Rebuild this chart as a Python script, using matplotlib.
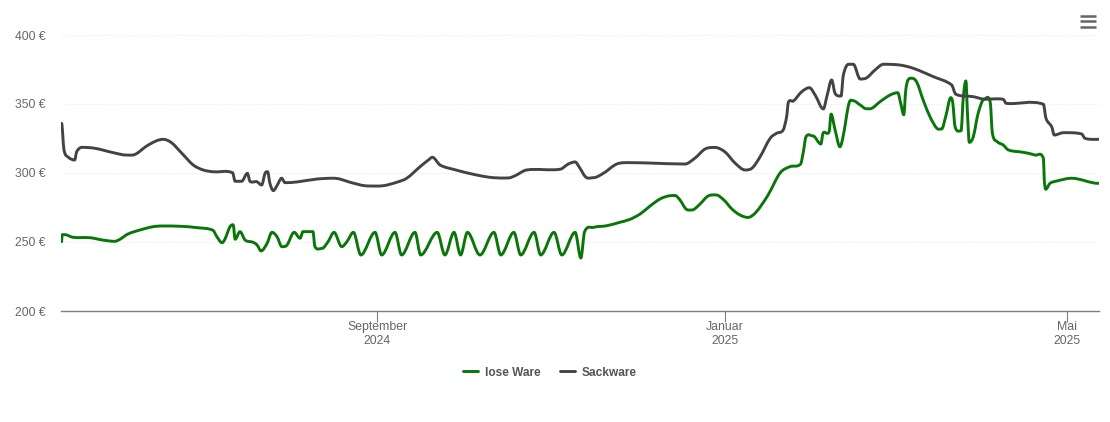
import datetime as dt
import matplotlib
matplotlib.use("Agg")
import matplotlib.pyplot as plt
import matplotlib.dates as mdates
from matplotlib.lines import Line2D
from matplotlib.patches import PathPatch
from matplotlib.path import Path

plt.rcParams['font.family'] = ['Liberation Sans', 'DejaVu Sans']

START = dt.datetime(2024, 5, 13)

lose_days = [0.2,0.4,1.4,4.2,10.2,14.7,18.9,20.7,23.5,27.7,32.3,35.8,41.8,47.7,53.3,54.7,56.5,57.5,59.3,60.4,61.1,62.8,64.6,67.4,68.8,70.2,72.3,74,75.8,77.5,79.3,81.8,83.9,84.9,88.4,89.1,91.6,93.7,
95.8,98.5,100.3,102.6,105.2,110.2,112.5,117.2,119.5,124.2,126.2,132,134.7,137.9,140.2,142.6,147,151.9,154.3,158.9,161.3,166,168.3,173,175.7,180.4,182.4,183.7,
186.8,191.5,196.1,199.6,203.2,206.7,210.2,213,215.4,217.2,219.3,221.4,224.2,227,229.8,232.6,235.4,238.2,241,243.9,248.1,252.3,255.8,259.5,260.4,261.4,263.9,266.6,267.4,269.5,270.2,271.6,273.3,274.4,276.5,277.9,280.4,282.5,284.5,287.4,290.9,293.6,294.6,295.7,296.4,297.2,298.8,300.4,302.5,304.9,307.3,309,310.4,312.2,312.9,313.7,315.8,316.6,317.5,318.1,318.7,320.1,321.8,323.9,326,326.8,328.5,330.6,332.4,337.6,341.8,344.7,345,345.5,347,349.4,354.6,364]
lose_eur = [250.2,255.3,255.3,253.4,253.1,251.4,250.5,252,255.8,258.7,261.1,261.6,261.4,260.4,258.5,253.8,249.5,252,261.1,262.5,252,257.5,251.4,249.8,247.8,243.5,249,257,253.8,246.6,247.8,257,252.7,257.5,257.5,246.6,245.4,250.2,
257,246.6,250.2,257,240.6,257,240.6,257,240.6,257,240.6,257,240.6,257,240.6,257,240.6,257,240.6,257,240.6,257,240.6,257,240.6,257,238.4,257.4,
260.6,261.8,264.3,266.4,270.3,276.1,281.2,283.3,283.7,280.4,273.9,273.2,277.5,283.3,284.1,280.4,273.9,269.6,267.8,271.7,284.1,300,304.6,306.5,314.5,326.3,326.8,321,329,329.9,342.7,331.2,319,326.3,350.7,352.4,349.3,346.6,346.9,351.7,356.5,358.2,350.7,342.2,360.1,367.4,368.6,365.2,352.9,340.8,332.4,331.9,340.8,354.6,350.7,333.5,330.6,355.3,366.7,340.8,322.2,326.3,343.3,353.4,351.7,328.8,322.7,320.3,316.7,315,313,310.6,294.9,288.2,292.5,294.2,296.2,292.5]

sack_days = [0.2,1.05,2.6,4.8,5.5,7.3,11.9,18.4,23,26,30.1,33.6,35.9,38.8,42.4,46.4,49.9,53.4,60.2,61.1,63.4,65.4,66.3,68.7,70.4,71.6,72.5,73.3,74.5,75.9,77.4,78.6,82.7,89.7,95.5,97.9,101.4,107.8,113.1,117.8,121.3,126,128.9,130.3,133,137.6,145.9,151.7,156.9,159.3,163.4,175.1,178,180.4,181.9,184.2,186.8,190.3,195,199.6,206.7,218.9,222.5,226,229.5,233,236.5,240,242.5,245.3,248.8,251.1,253.4,254.6,255.2,257,259.9,262.6,264.6,267.5,268.7,270.4,271.6,273.7,274.5,276.3,278,280.4,282.7,285.6,288.6,294.4,299,306.1,312.5,313.9,320.1,323.6,330.6,331.6,344.7,345.6,347.6,348.5,351.7,358.1,359.3,364]
sack_eur = [336,316.7,311.4,309.4,315.4,318.6,317.9,314.7,313,313.5,319.6,323.4,324.4,321.9,314.3,305.8,302.2,300.9,300.2,294,294,299.8,294,293.7,291.3,299.8,300.9,292.5,287.2,291.3,296.2,293,293.5,295.6,296.2,295.6,293.3,290.6,290.8,293.3,296.2,304.6,309.4,311.4,305.8,302.7,298.5,296.6,296.4,298,302.2,302.7,306.5,308,304.1,296.9,296.6,299.8,306.5,307.5,307.2,306.5,310.9,317.4,318.5,315.2,307.2,302.2,303.6,311.8,325.1,328.8,331.2,340.8,351.2,352.2,358.9,361.8,356.5,346.4,355.3,367.4,357.7,355.8,371,378.8,378.8,368.1,369,374.6,378.8,378.2,375.9,369.8,363.8,357.2,355.3,353.6,353.4,350.5,349.8,339.6,333.5,327.5,329.2,328.3,325.1,324.4]

y_ticks = [200, 250, 300, 350, 400]
y_labels = ["200 €", "250 €", "300 €", "350 €", "400 €"]
x_ticks = [dt.datetime(2024, 9, 1), dt.datetime(2025, 1, 1), dt.datetime(2025, 5, 1)]
x_labels = ["September\n2024", "Januar\n2025", "Mai\n2025"]

W, H = 1110, 422
fig = plt.figure(figsize=(W/100, H/100), dpi=100, facecolor="white")
ax = fig.add_axes([61/W, 1-311/H, (1099-61)/W, (311-35)/H])


def spline_path(days, eur):
    """Bezier path through the read points (curve style of the original chart)."""
    x0 = mdates.date2num(START)
    xs = [x0 + d for d in days]
    n = len(xs)
    slopes = []
    for i in range(n):
        if i == 0 or i == n - 1:
            slopes.append(0.0)
        elif (eur[i] - eur[i-1]) * (eur[i+1] - eur[i]) <= 0:
            slopes.append(0.0)
        else:
            slopes.append((eur[i+1] - eur[i-1]) / (xs[i+1] - xs[i-1]))
    verts = [(xs[0], eur[0])]
    codes = [Path.MOVETO]
    for i in range(n - 1):
        h = (xs[i+1] - xs[i]) / 3
        verts += [(xs[i] + h, eur[i] + h * slopes[i]),
                  (xs[i+1] - h, eur[i+1] - h * slopes[i+1]),
                  (xs[i+1], eur[i+1])]
        codes += [Path.CURVE4] * 3
    return Path(verts, codes)


series = [(lose_days, lose_eur, "#0a760a", "lose Ware"),
          (sack_days, sack_eur, "#434343", "Sackware")]
handles = []
for days, eur, col, name in series:
    ax.add_patch(PathPatch(spline_path(days, eur), fill=False, edgecolor=col, lw=2.1,
                           joinstyle="round", capstyle="round", zorder=3))
    handles.append(Line2D([], [], color=col, lw=2.1, solid_capstyle="round", label=name))

ax.set_xlim(START, START + dt.timedelta(days=364.2))
ax.set_ylim(200, 400)
ax.set_yticks(y_ticks, y_labels)
ax.set_xticks(x_ticks, x_labels)
ax.grid(axis="y", color="#e9e9e9", lw=0.8, ls=(0, (1, 1.5)))
ax.set_axisbelow(True)
for s in ["top", "left", "right"]:
    ax.spines[s].set_visible(False)
ax.spines["bottom"].set_color("#7f7f7f")
ax.spines["bottom"].set_linewidth(1.0)
ax.tick_params(axis="y", length=0, pad=11, labelsize=8.7, labelcolor="#666666")
ax.tick_params(axis="x", length=8, width=0.8, color="#7f7f7f", pad=-0.5, labelsize=8.8, labelcolor="#666666")
for lab in ax.get_xticklabels():
    lab.set_linespacing(1.2)

leg = fig.legend(handles=handles, loc="center", bbox_to_anchor=(550/W, 1-372.5/H), ncol=2, frameon=False,
                 prop={"size": 8.6, "weight": "bold"}, labelcolor="#555555",
                 handlelength=1.25, handletextpad=0.6, columnspacing=1.55)

# menu button
for y in (16, 21.3, 26.5):
    fig.add_artist(Line2D([1080/W, 1096/W], [1-y/H]*2, color="#666666", lw=1.8,
                          solid_capstyle="butt", transform=fig.transFigure))

fig.savefig("out.png", dpi=100)
